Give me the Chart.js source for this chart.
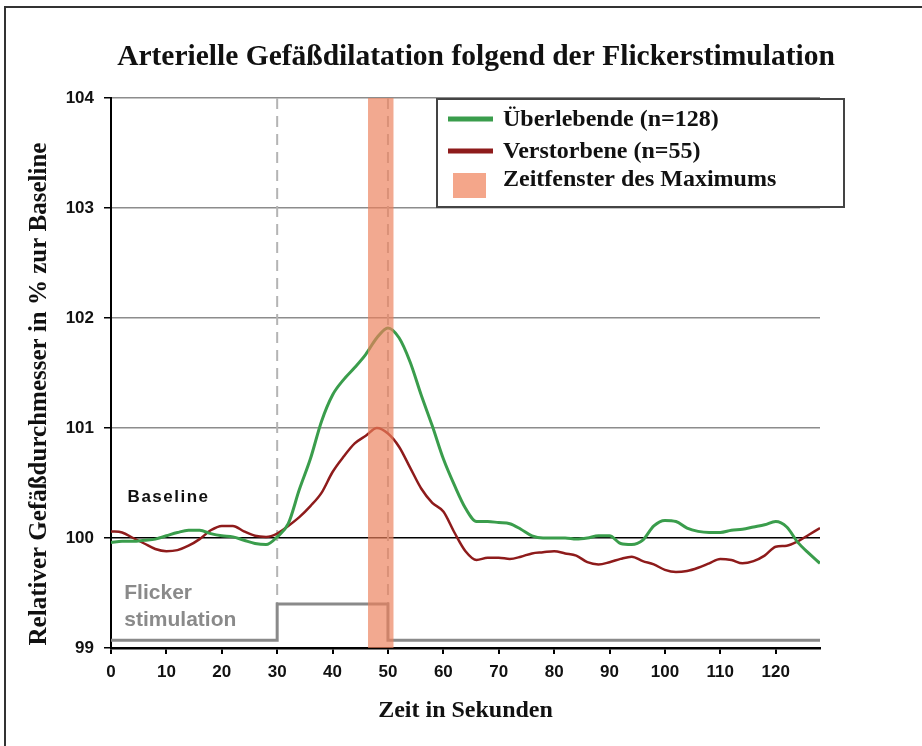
<!DOCTYPE html>
<html lang="de">
<head>
<meta charset="utf-8">
<title>Arterielle Gefäßdilatation folgend der Flickerstimulation</title>
<script src="https://cdn.jsdelivr.net/npm/chart.js@4"></script>
<style>
  html, body { margin: 0; padding: 0; background: #fff; }
  #wrap { width: 922px; height: 746px; position: relative; }
</style>
</head>
<body>
<div id="wrap"><canvas id="chart"></canvas></div>
<script>
// Zeit in Sekunden
const zeit = [0, 2, 4, 6, 8, 10, 12, 14, 16, 18, 20, 22, 24, 26, 28, 30, 32, 34, 36, 38,
  40, 42, 44, 46, 48, 50, 52, 54, 56, 58, 60, 62, 64, 66, 68, 70, 72, 74, 76, 78,
  80, 82, 84, 86, 88, 90, 92, 94, 96, 98, 100, 102, 104, 106, 108, 110, 112, 114, 116, 118,
  120, 122, 124, 126, 128];

// Überlebende (n=128)
const ueberlebende = [99.96, 99.97, 99.97, 99.98, 99.99, 100.02, 100.05, 100.07, 100.07, 100.04,
  100.02, 100.01, 99.98, 99.95, 99.94, 100.01, 100.13, 100.44, 100.72, 101.06,
  101.30, 101.44, 101.55, 101.67, 101.82, 101.91, 101.82, 101.60, 101.30, 101.02,
  100.72, 100.48, 100.27, 100.15, 100.15, 100.14, 100.13, 100.08, 100.02, 100.00,
  100.00, 100.00, 99.99, 100.00, 100.02, 100.02, 99.95, 99.94, 99.98, 100.11,
  100.16, 100.15, 100.09, 100.06, 100.05, 100.05, 100.07, 100.08, 100.10, 100.12,
  100.15, 100.10, 99.96, 99.86, 99.77];

// Verstorbene (n=55)
const verstorbene = [100.06, 100.05, 100.00, 99.95, 99.90, 99.88, 99.89, 99.93, 99.99, 100.07,
  100.11, 100.11, 100.06, 100.02, 100.01, 100.04, 100.11, 100.19, 100.29, 100.41,
  100.60, 100.74, 100.86, 100.93, 101.00, 100.95, 100.83, 100.64, 100.45, 100.32,
  100.24, 100.05, 99.88, 99.80, 99.82, 99.82, 99.81, 99.83, 99.86, 99.87,
  99.88, 99.86, 99.84, 99.78, 99.76, 99.78, 99.81, 99.83, 99.79, 99.76,
  99.71, 99.69, 99.70, 99.73, 99.77, 99.81, 99.80, 99.77, 99.79, 99.84,
  99.92, 99.93, 99.97, 100.03, 100.09];

// Flickerstimulation (Stufe)
const flickerZeit = [0, 30, 30, 50, 50, 128];
const flickerWert = [99.07, 99.07, 99.4, 99.4, 99.07, 99.07];

// Zeitfenster des Maximums und Markierungen
const maxFenster = [46.4, 51];
const markerZeit = [30, 50];

// Achsen
const xBereich = [0, 128];
const yBereich = [99, 104];

const titel = 'Arterielle Gefäßdilatation folgend der Flickerstimulation';
const yTitel = 'Relativer Gefäßdurchmesser in % zur Baseline';

const toPoints = (xs, ys) => xs.map((x, i) => ({ x: x, y: ys[i] }));

const serif = '"Liberation Serif", "Times New Roman", serif';
const sans = '"Liberation Sans", Arial, sans-serif';

const rahmen = {
  id: 'rahmen',
  beforeDraw(chart) {
    const c = chart.ctx;
    c.save();
    c.fillStyle = '#fff';
    c.fillRect(0, 0, chart.width, chart.height);
    c.strokeStyle = '#333';
    c.lineWidth = 2;
    c.beginPath();
    c.moveTo(5, chart.height);
    c.lineTo(5, 7);
    c.lineTo(chart.width, 7);
    c.stroke();
    // Titel
    c.fillStyle = '#111';
    c.font = 'bold 29.5px ' + serif;
    c.textAlign = 'center';
    c.textBaseline = 'middle';
    c.fillText(titel, 476, 57);
    // y-Achsentitel
    c.translate(40, 394);
    c.rotate(-Math.PI / 2);
    c.font = 'bold 25px ' + serif;
    c.fillText(yTitel, 0, 0);
    c.restore();
  }
};

const markierungen = {
  id: 'markierungen',
  beforeDatasetsDraw(chart) {
    const { ctx, chartArea, scales: { x, y } } = chart;
    ctx.save();
    ctx.strokeStyle = '#b4b4b4';
    ctx.lineWidth = 2;
    ctx.setLineDash([11, 7]);
    markerZeit.forEach(t => {
      const px = x.getPixelForValue(t);
      ctx.beginPath();
      ctx.moveTo(px, chartArea.top);
      ctx.lineTo(px, y.getPixelForValue(flickerWert[2]));
      ctx.stroke();
    });
    ctx.restore();

    // Beschriftungen
    ctx.save();
    ctx.textBaseline = 'middle';
    ctx.textAlign = 'left';
    ctx.fillStyle = '#111';
    ctx.font = 'bold 17px ' + sans;
    ctx.letterSpacing = '1.5px';
    ctx.fillText('Baseline', x.getPixelForValue(3), y.getPixelForValue(100.37));
    ctx.fillStyle = '#8a8a8a';
    ctx.font = 'bold 21px ' + sans;
    ctx.letterSpacing = '0px';
    ctx.fillText('Flicker', x.getPixelForValue(2.4), y.getPixelForValue(99.5));
    ctx.fillText('stimulation', x.getPixelForValue(2.4), y.getPixelForValue(99.25));
    ctx.restore();
  },
  afterDatasetsDraw(chart) {
    const { ctx, chartArea, scales: { x } } = chart;
    const x0 = x.getPixelForValue(maxFenster[0]);
    const x1 = x.getPixelForValue(maxFenster[1]);
    ctx.save();
    ctx.fillStyle = 'rgba(236,128,92,0.68)';
    ctx.fillRect(x0, chartArea.top, x1 - x0, chartArea.bottom - chartArea.top);
    ctx.restore();
  }
};

const legende = {
  id: 'legende',
  afterDraw(chart) {
    const { ctx, chartArea } = chart;
    const left = chartArea.left + 326, top = chartArea.top + 1;
    ctx.save();
    ctx.fillStyle = '#fff';
    ctx.fillRect(left, top, 407, 108);
    ctx.strokeStyle = '#444';
    ctx.lineWidth = 2;
    ctx.strokeRect(left, top, 407, 108);

    ctx.font = 'bold 24px ' + serif;
    ctx.textBaseline = 'middle';
    ctx.fillStyle = '#111';
    const ds = chart.data.datasets;
    [0, 1].forEach(i => {
      const yy = top + 20 + i * 32;
      ctx.strokeStyle = ds[i].borderColor;
      ctx.lineWidth = 5;
      ctx.beginPath();
      ctx.moveTo(left + 11, yy);
      ctx.lineTo(left + 56, yy);
      ctx.stroke();
      ctx.fillText(ds[i].label, left + 66, yy + 1);
    });
    ctx.fillStyle = '#f4a68a';
    ctx.fillRect(left + 16, top + 74, 33, 25);
    ctx.fillStyle = '#111';
    ctx.fillText('Zeitfenster des Maximums', left + 66, top + 81);
    ctx.restore();
  }
};

new Chart(document.getElementById('chart'), {
  type: 'line',
  data: {
    datasets: [
      {
        label: 'Überlebende (n=128)',
        data: toPoints(zeit, ueberlebende),
        borderColor: '#3a9d4c',
        borderWidth: 3,
        pointRadius: 0,
        cubicInterpolationMode: 'monotone'
      },
      {
        label: 'Verstorbene (n=55)',
        data: toPoints(zeit, verstorbene),
        borderColor: '#8e1b1b',
        borderWidth: 2.5,
        pointRadius: 0,
        cubicInterpolationMode: 'monotone'
      },
      {
        label: 'Flickerstimulation',
        data: toPoints(flickerZeit, flickerWert),
        borderColor: '#8a8a8a',
        borderWidth: 3,
        pointRadius: 0,
        tension: 0
      }
    ]
  },
  options: {
    responsive: true,
    maintainAspectRatio: false,
    animation: false,
    layout: { padding: { left: 0, right: 102, top: 98, bottom: 0 } },
    plugins: {
      legend: { display: false },
      tooltip: { enabled: false },
      title: { display: false }
    },
    scales: {
      x: {
        type: 'linear',
        min: xBereich[0],
        max: xBereich[1],
        afterFit(scale) { scale.height = 98; },
        ticks: {
          stepSize: 10,
          includeBounds: false,
          color: '#111',
          padding: 8,
          font: { family: sans, size: 17, weight: 'bold' },
          maxRotation: 0
        },
        grid: { drawOnChartArea: false, drawTicks: true, tickLength: 6, tickColor: '#000', lineWidth: 2 },
        border: { display: true, color: '#000', width: 2.5 },
        title: {
          display: true,
          text: 'Zeit in Sekunden',
          color: '#111',
          font: { family: serif, size: 24, weight: 'bold' },
          padding: { top: 0, bottom: 21 }
        }
      },
      y: {
        min: yBereich[0],
        max: yBereich[1],
        afterFit(scale) { scale.width = 111; },
        ticks: {
          stepSize: 1,
          color: '#111',
          padding: 10,
          font: { family: sans, size: 17, weight: 'bold' }
        },
        grid: {
          color: c => (c.tick && c.tick.value === 100) ? '#000' : '#8c8c8c',
          lineWidth: 1.5,
          drawTicks: true,
          tickLength: 7,
          tickColor: '#000'
        },
        border: { display: true, color: '#000', width: 2 },
        title: { display: false }
      }
    }
  },
  plugins: [rahmen, markierungen, legende]
});
</script>
</body>
</html>
